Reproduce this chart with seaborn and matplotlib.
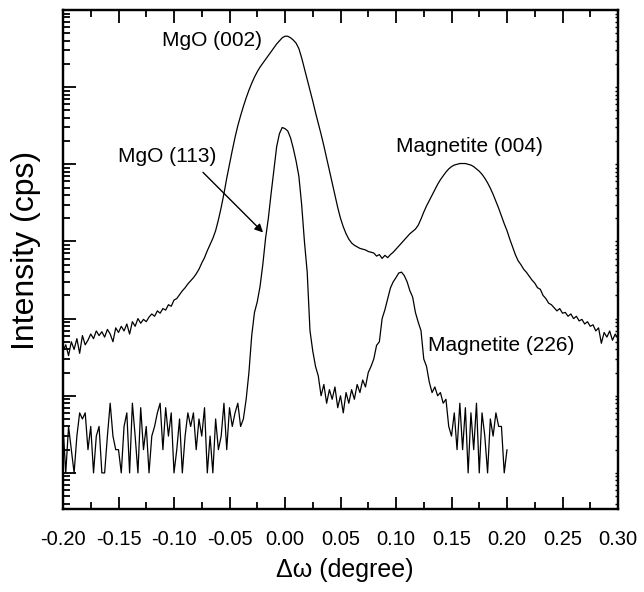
import numpy as np
import pandas as pd
import matplotlib
matplotlib.use("Agg")
import matplotlib.pyplot as plt
import seaborn as sns
from matplotlib.ticker import LogLocator, NullFormatter, MultipleLocator, FormatStrFormatter

# rocking curves, step 0.0025 degree
upper_x = np.round(np.arange(-0.2, 0.30001, 0.0025), 4)
# MgO (002) + Magnetite (004), read as log10(cps)
upper_log10 = [
    1.58, 1.66, 1.52, 1.70, 1.60, 1.74, 1.55, 1.78, 1.66, 1.72,
    1.80, 1.74, 1.84, 1.78, 1.83, 1.76, 1.86, 1.80, 1.70, 1.88,
    1.82, 1.90, 1.84, 1.93, 1.80, 1.96, 1.90, 2.00, 1.94, 1.99,
    1.96, 2.02, 2.06, 2.03, 2.10, 2.07, 2.13, 2.11, 2.18, 2.16,
    2.24, 2.26, 2.31, 2.36, 2.40, 2.45, 2.49, 2.53, 2.58, 2.64,
    2.72, 2.79, 2.88, 2.96, 3.04, 3.14, 3.28, 3.44, 3.62, 3.82,
    4.00, 4.18, 4.35, 4.50, 4.63, 4.75, 4.86, 4.96, 5.05, 5.13,
    5.20, 5.26, 5.31, 5.36, 5.41, 5.46, 5.51, 5.56, 5.60, 5.64,
    5.66, 5.66, 5.64, 5.61, 5.57, 5.50, 5.38, 5.24, 5.10, 4.96,
    4.82, 4.67, 4.53, 4.39, 4.24, 4.08, 3.92, 3.76, 3.60, 3.44,
    3.30, 3.19, 3.10, 3.03, 2.98, 2.95, 2.93, 2.91, 2.90, 2.89,
    2.87, 2.86, 2.85, 2.81, 2.83, 2.78, 2.82, 2.79, 2.83, 2.86,
    2.90, 2.94, 2.98, 3.02, 3.06, 3.10, 3.13, 3.16, 3.21, 3.29,
    3.38, 3.46, 3.53, 3.60, 3.67, 3.74, 3.80, 3.85, 3.90, 3.94,
    3.97, 3.99, 4.00, 4.01, 4.01, 4.01, 4.00, 3.99, 3.97, 3.94,
    3.91, 3.87, 3.82, 3.76, 3.69, 3.61, 3.52, 3.43, 3.33, 3.23,
    3.14, 3.03, 2.93, 2.83, 2.75, 2.70, 2.64, 2.60, 2.55, 2.50,
    2.46, 2.40, 2.38, 2.30, 2.26, 2.20, 2.18, 2.14, 2.10, 2.13,
    2.07, 2.08, 2.03, 2.06, 2.00, 2.03, 1.97, 1.99, 1.93, 1.96,
    1.90, 1.92, 1.84, 1.88, 1.68, 1.82, 1.76, 1.84, 1.72, 1.80,
    1.74,
]

lower_x = np.round(np.arange(-0.2, 0.20001, 0.0025), 4)
# MgO (113) + Magnetite (226), counts per second
lower_cps = [
    4, 1, 4, 2, 1, 3, 6, 5, 6, 2,
    4, 1, 3, 4, 1, 1, 3, 8, 3, 2,
    2, 1, 4, 6, 1, 8, 3, 1, 7, 2,
    4, 1, 3, 4, 6, 8, 2, 7, 3, 6,
    1, 2, 5, 1, 3, 6, 4, 6, 2, 5,
    3, 7, 1, 3, 1, 5, 2, 3, 8, 2,
    7, 4, 6, 8, 4, 5, 9, 20, 60, 120,
    165, 260, 500, 1100, 2000, 4200, 8500, 17000, 25000, 30000,
    29000, 27000, 22000, 16000, 11000, 7000, 3000, 1000, 400, 70,
    38, 24, 18, 10, 14, 8, 12, 9, 13, 7,
    10, 6, 11, 8, 12, 9, 14, 11, 16, 13,
    20, 24, 30, 45, 50, 100, 130, 180, 250, 300,
    340, 390, 400, 360, 300, 230, 190, 120, 90, 70,
    30, 24, 15, 11, 13, 10, 11, 8, 9, 4,
    3, 6, 2, 8, 2, 7, 1, 6, 2, 8,
    1, 6, 3, 1, 5, 3, 6, 4, 4, 1,
    2,
]

upper = pd.DataFrame({"omega": upper_x, "cps": 10 ** np.array(upper_log10)})
lower = pd.DataFrame({"omega": lower_x, "cps": np.array(lower_cps, dtype=float)})

sns.set_style("ticks")
plt.rcParams["font.family"] = ["Liberation Sans", "DejaVu Sans"]
plt.rcParams["axes.unicode_minus"] = False
plt.rcParams["text.color"] = "black"
plt.rcParams["axes.labelcolor"] = "black"
plt.rcParams["xtick.color"] = "black"
plt.rcParams["ytick.color"] = "black"

fig = plt.figure(figsize=(6.44, 5.92), dpi=100)
ax = fig.add_axes([63 / 644, 83 / 592, 555 / 644, 499 / 592])

sns.lineplot(data=upper, x="omega", y="cps", ax=ax, color="black", lw=0.9,
             estimator=None, sort=False)
sns.lineplot(data=lower, x="omega", y="cps", ax=ax, color="black", lw=0.9,
             estimator=None, sort=False)

ax.set_yscale("log")
ax.set_xlim(-0.2, 0.3)
ax.set_ylim(10 ** -0.468, 1e6)

ax.xaxis.set_major_locator(MultipleLocator(0.05))
ax.xaxis.set_minor_locator(MultipleLocator(0.025))
ax.xaxis.set_major_formatter(FormatStrFormatter("%.2f"))
ax.yaxis.set_major_locator(LogLocator(base=10, numticks=20))
ax.yaxis.set_minor_locator(LogLocator(base=10, subs=np.arange(2, 10), numticks=20))
ax.yaxis.set_major_formatter(NullFormatter())
ax.yaxis.set_minor_formatter(NullFormatter())

ax.tick_params(axis="x", which="major", direction="in", length=9, width=1.3,
               top=True, labelsize=14.5, pad=15, colors="black")
ax.tick_params(axis="x", which="minor", direction="in", length=5, width=1.3, top=True)
ax.tick_params(axis="y", which="major", direction="in", length=9, width=1.3)
ax.tick_params(axis="y", which="minor", direction="in", length=5, width=1.3)

# tiny ticks on the right spine
axr = ax.twinx()
axr.set_yscale("log")
axr.set_ylim(ax.get_ylim())
axr.yaxis.set_major_locator(LogLocator(base=10, numticks=20))
axr.yaxis.set_minor_locator(LogLocator(base=10, subs=np.arange(2, 10), numticks=20))
axr.yaxis.set_major_formatter(NullFormatter())
axr.yaxis.set_minor_formatter(NullFormatter())
axr.tick_params(axis="y", which="both", direction="in", length=2.5, width=1)

for a in (ax, axr):
    for s in a.spines.values():
        s.set_linewidth(1.6)
        s.set_color("black")

ax.set_xlabel("\u0394\u03c9 (degree)", fontsize=18, color="black")
ax.set_ylabel("Intensity (cps)", fontsize=23, color="black")
ax.xaxis.set_label_coords(0.508, -0.098)
ax.yaxis.set_label_coords(-0.04, 0.519)

txt = dict(fontsize=15, ha="center", va="center", color="black")
ax.text(-0.0658, 10 ** 5.60, "MgO (002)", **txt)
ax.text(-0.106, 10 ** 4.10, "MgO (113)", **txt)
ax.text(0.1658, 10 ** 4.23, "Magnetite (004)", **txt)
ax.text(0.1946, 10 ** 1.65, "Magnetite (226)", **txt)
ax.annotate("", xy=(-0.0198, 10 ** 3.117), xytext=(-0.0739, 10 ** 3.896),
            arrowprops=dict(arrowstyle="-|>", color="black", lw=1,
                            mutation_scale=12, shrinkA=0, shrinkB=0))

fig.savefig("out.png", dpi=100)
